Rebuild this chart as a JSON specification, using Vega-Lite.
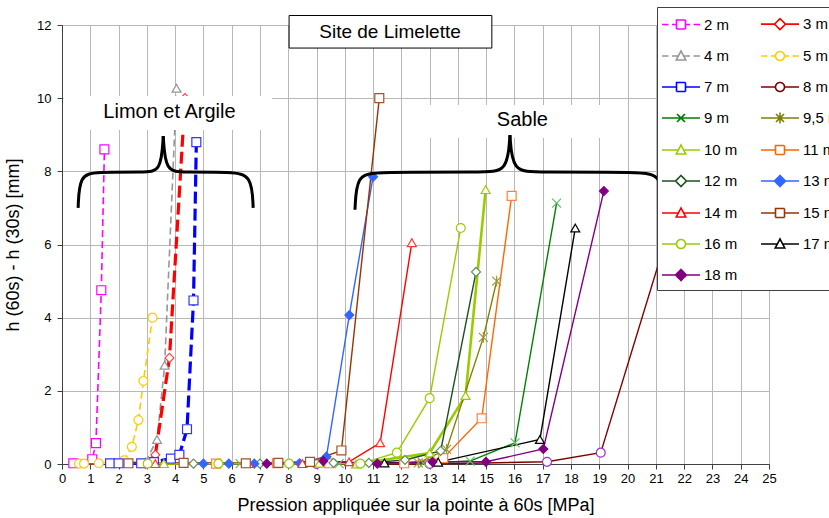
{
"$schema": "https://vega.github.io/schema/vega-lite/v6.json",
"width": 707, "height": 439,
"autosize": {"type": "none"},
"padding": {"left": 62, "top": 25, "right": 60, "bottom": 54},
"background": "white",
"config": {
 "font": "Liberation Sans",
 "view": {"stroke": "#404040", "strokeWidth": 1},
 "axis": {"domainColor": "#404040", "tickColor": "#404040", "gridColor": "#b8b8b8", "labelFont": "Liberation Sans", "titleFont": "Liberation Sans", "labelColor": "#000000", "titleColor": "#000000", "titleFontWeight": "normal", "labelFontSize": 13, "titleFontSize": 18, "tickSize": 5, "labelFlush": false, "labelOverlap": false}
},
"datasets": {
 "d": [
  {"s":"2 m","x":0.4,"y":0.02},{"s":"2 m","x":1.07,"y":0.13},{"s":"2 m","x":1.2,"y":0.57},{"s":"2 m","x":1.39,"y":4.75},{"s":"2 m","x":1.5,"y":8.6},
  {"s":"3 m","x":2.95,"y":0.0},{"s":"3 m","x":3.3,"y":0.25},{"s":"3 m","x":3.8,"y":2.9},{"s":"3 m","x":4.35,"y":10.0},
  {"s":"4 m","x":2.95,"y":0.05},{"s":"4 m","x":3.36,"y":0.67},{"s":"4 m","x":3.63,"y":2.7},{"s":"4 m","x":4.05,"y":10.27},
  {"s":"5 m","x":0.6,"y":0.01},{"s":"5 m","x":0.78,"y":0.01},{"s":"5 m","x":1.3,"y":0.02},{"s":"5 m","x":2.2,"y":0.1},{"s":"5 m","x":2.47,"y":0.47},{"s":"5 m","x":2.7,"y":1.2},{"s":"5 m","x":2.88,"y":2.27},{"s":"5 m","x":3.2,"y":4.0},
  {"s":"7 m","x":1.7,"y":0.02},{"s":"7 m","x":2.0,"y":0.02},{"s":"7 m","x":2.8,"y":0.02},{"s":"7 m","x":3.25,"y":0.05},{"s":"7 m","x":3.85,"y":0.15},{"s":"7 m","x":4.15,"y":0.25},{"s":"7 m","x":4.42,"y":0.95},{"s":"7 m","x":4.65,"y":4.47},{"s":"7 m","x":4.75,"y":8.8},
  {"s":"8 m","x":9.0,"y":0.0},{"s":"8 m","x":13.0,"y":0.0},{"s":"8 m","x":17.15,"y":0.06},{"s":"8 m","x":19.05,"y":0.31},{"s":"8 m","x":21.5,"y":6.5},
  {"s":"9 m","x":6.3,"y":0.01},{"s":"9 m","x":9.8,"y":0.01},{"s":"9 m","x":12.78,"y":0.02},{"s":"9 m","x":14.43,"y":0.08},{"s":"9 m","x":16.02,"y":0.58},{"s":"9 m","x":17.49,"y":7.13},
  {"s":"9,5 m","x":12.6,"y":0.03},{"s":"9,5 m","x":13.6,"y":0.4},{"s":"9,5 m","x":14.9,"y":3.46},{"s":"9,5 m","x":15.37,"y":5.0},
  {"s":"10 m","x":3.6,"y":0.01},{"s":"10 m","x":9.1,"y":0.02},{"s":"10 m","x":10.4,"y":0.0},{"s":"10 m","x":13.0,"y":0.3},{"s":"10 m","x":14.27,"y":1.87},{"s":"10 m","x":14.98,"y":7.5},
  {"s":"11 m","x":5.45,"y":0.01},{"s":"11 m","x":7.6,"y":0.02},{"s":"11 m","x":9.45,"y":0.02},{"s":"11 m","x":12.1,"y":0.02},{"s":"11 m","x":13.48,"y":0.16},{"s":"11 m","x":14.84,"y":1.25},{"s":"11 m","x":15.9,"y":7.33},
  {"s":"12 m","x":4.65,"y":0.01},{"s":"12 m","x":7.0,"y":0.01},{"s":"12 m","x":9.6,"y":0.03},{"s":"12 m","x":10.85,"y":0.03},{"s":"12 m","x":12.13,"y":0.11},{"s":"12 m","x":13.39,"y":0.36},{"s":"12 m","x":14.64,"y":5.25},
  {"s":"13 m","x":5.0,"y":0.01},{"s":"13 m","x":5.9,"y":0.01},{"s":"13 m","x":6.8,"y":0.01},{"s":"13 m","x":8.4,"y":0.02},{"s":"13 m","x":9.35,"y":0.2},{"s":"13 m","x":10.16,"y":4.07},{"s":"13 m","x":11.0,"y":7.85},
  {"s":"14 m","x":3.3,"y":0.01},{"s":"14 m","x":6.6,"y":0.01},{"s":"14 m","x":8.5,"y":0.01},{"s":"14 m","x":10.15,"y":0.06},{"s":"14 m","x":11.25,"y":0.58},{"s":"14 m","x":12.37,"y":6.05},
  {"s":"15 m","x":2.35,"y":0.02},{"s":"15 m","x":4.3,"y":0.03},{"s":"15 m","x":6.5,"y":0.02},{"s":"15 m","x":7.65,"y":0.03},{"s":"15 m","x":8.77,"y":0.06},{"s":"15 m","x":9.88,"y":0.37},{"s":"15 m","x":11.22,"y":10.0},
  {"s":"16 m","x":3.03,"y":0.01},{"s":"16 m","x":5.53,"y":0.01},{"s":"16 m","x":8.03,"y":0.01},{"s":"16 m","x":10.55,"y":0.01},{"s":"16 m","x":11.84,"y":0.31},{"s":"16 m","x":13.0,"y":1.8},{"s":"16 m","x":14.1,"y":6.45},
  {"s":"17 m","x":11.4,"y":0.03},{"s":"17 m","x":13.3,"y":0.05},{"s":"17 m","x":16.9,"y":0.67},{"s":"17 m","x":18.15,"y":6.45},
  {"s":"18 m","x":7.24,"y":0.01},{"s":"18 m","x":9.24,"y":0.08},{"s":"18 m","x":11.15,"y":0.01},{"s":"18 m","x":13.1,"y":0.06},{"s":"18 m","x":14.99,"y":0.06},{"s":"18 m","x":17.02,"y":0.41},{"s":"18 m","x":19.16,"y":7.46}
 ],
 "br": [
  {"p":"a","o":0,"x":0.57,"y":7.0},{"p":"a","o":1,"x":0.62,"y":7.9},{"p":"a","o":2,"x":1.2,"y":7.98},{"p":"a","o":3,"x":2.9,"y":7.98},{"p":"a","o":4,"x":3.5,"y":7.98},{"p":"a","o":5,"x":3.58,"y":8.96},
  {"p":"b","o":0,"x":3.58,"y":8.96},{"p":"b","o":1,"x":3.66,"y":7.98},{"p":"b","o":2,"x":4.3,"y":7.98},{"p":"b","o":3,"x":6.0,"y":7.98},{"p":"b","o":4,"x":6.71,"y":7.9},{"p":"b","o":5,"x":6.76,"y":7.0},
  {"p":"c","o":0,"x":10.36,"y":6.95},{"p":"c","o":1,"x":10.42,"y":7.9},{"p":"c","o":2,"x":11.1,"y":7.98},{"p":"c","o":3,"x":14.9,"y":7.98},{"p":"c","o":4,"x":15.75,"y":7.98},{"p":"c","o":5,"x":15.84,"y":8.99},
  {"p":"d","o":0,"x":15.84,"y":8.99},{"p":"d","o":1,"x":15.93,"y":7.98},{"p":"d","o":2,"x":16.8,"y":7.98},{"p":"d","o":3,"x":20.5,"y":7.98},{"p":"d","o":4,"x":21.2,"y":7.9},{"p":"d","o":5,"x":21.25,"y":6.95}
 ],
 "wb": [{"x":0.06,"x2":7.43,"y":9.13,"y2":10.06},{"x":12.06,"x2":19.97,"y":8.91,"y2":9.81}],
 "tb": [{"x":8.03,"x2":15.2,"y":11.37,"y2":12.26,"t":"Site de Limelette","xc":11.6,"yc":11.82}],
 "ann": [{"t":"Limon et Argile","x":3.8,"y":9.62},{"t":"Sable","x":16.28,"y":9.39}]
},
"encoding": {
 "x": {"field": "x", "type": "quantitative", "scale": {"domain": [0, 25], "nice": false, "zero": false},
  "axis": {"title": "Pression appliquée sur la pointe à 60s [MPa]", "values": [0,1,2,3,4,5,6,7,8,9,10,11,12,13,14,15,16,17,18,19,20,21,22,23,24,25], "labelPadding": 3, "titlePadding": 11}},
 "y": {"field": "y", "type": "quantitative", "scale": {"domain": [0, 12], "nice": false, "zero": false},
  "axis": {"title": "h (60s) - h (30s) [mm]", "values": [0,2,4,6,8,10,12], "labelPadding": 6, "titlePadding": 14}}
},
"layer": [
 {"data": {"name": "d"}, "transform": [{"filter": {"field": "s", "oneOf": ["2 m","4 m","5 m"]}}],
  "mark": {"type": "line", "strokeDash": [7, 4], "strokeWidth": 1.6},
  "encoding": {"color": {"field": "s", "type": "nominal",
   "scale": {"domain": ["2 m","4 m","7 m","9 m","10 m","12 m","14 m","16 m","18 m","3 m","5 m","8 m","9,5 m","11 m","13 m","15 m","17 m"],
    "range": ["#FF00FF","#969696","#0000FF","#008000","#99CC00","#1F4F1F","#FF0000","#99CC00","#800080","#FF0000","#FFCC00","#800000","#808000","#FF6600","#3366FF","#993300","#000000"]},
   "legend": {"title": null, "orient": "none", "legendX": 595, "legendY": -18, "columns": 2, "padding": 6,
     "fillColor": "white", "strokeColor": "#404040", "symbolDash": [1, 0],
     "labelFont": "Liberation Sans", "labelFontSize": 15, "labelColor": "#000000", "labelOffset": 19,
     "columnPadding": 19, "rowPadding": 12, "symbolSize": 400, "symbolStrokeWidth": 1.6,
     "encode": {"symbols": {"update": {
      "shape": {"signal": "['M-1.2,0H-0.55M-0.2,0H0.25M1.15,0H1.6M1.95,0H2.6M0.25,-0.45H1.15V0.45H0.25Z','M-1.2,0H0.15M1.25,0H2.6M0.7,-0.55L1.25,0L0.7,0.55L0.15,0Z','M-1.2,0H-0.55M-0.2,0H0.43M0.97,0H1.6M1.95,0H2.6M0.7,-0.5L1.18,0.4L0.22,0.4Z','M-1.2,0H-0.55M-0.2,0H0.25M1.15,0H1.6M1.95,0H2.6M1.15,0A0.45,0.45,0,1,1,0.25,0A0.45,0.45,0,1,1,1.15,0Z','M-1.2,0H0.25M1.15,0H2.6M0.25,-0.45H1.15V0.45H0.25Z','M-1.2,0H0.25M1.15,0H2.6M1.15,0A0.45,0.45,0,1,1,0.25,0A0.45,0.45,0,1,1,1.15,0Z','M-1.2,0H2.6M0.3,-0.4L1.1,0.4M0.3,0.4L1.1,-0.4','M-1.2,0H2.6M0.3,-0.4L1.1,0.4M0.3,0.4L1.1,-0.4M0.7,-0.55V0.55','M-1.2,0H0.43M0.97,0H2.6M0.7,-0.5L1.18,0.4L0.22,0.4Z','M-1.2,0H0.25M1.15,0H2.6M0.25,-0.45H1.15V0.45H0.25Z','M-1.2,0H0.15M1.25,0H2.6M0.7,-0.55L1.25,0L0.7,0.55L0.15,0Z','M-1.2,0H0.15M1.25,0H2.6M0.7,-0.55L1.25,0L0.7,0.55L0.15,0Z','M-1.2,0H0.43M0.97,0H2.6M0.7,-0.5L1.18,0.4L0.22,0.4Z','M-1.2,0H0.25M1.15,0H2.6M0.25,-0.45H1.15V0.45H0.25Z','M-1.2,0H0.25M1.15,0H2.6M1.15,0A0.45,0.45,0,1,1,0.25,0A0.45,0.45,0,1,1,1.15,0Z','M-1.2,0H0.43M0.97,0H2.6M0.7,-0.5L1.18,0.4L0.22,0.4Z','M-1.2,0H0.15M1.25,0H2.6M0.7,-0.55L1.25,0L0.7,0.55L0.15,0Z'][indexof(['2 m','3 m','4 m','5 m','7 m','8 m','9 m','9,5 m','10 m','11 m','12 m','13 m','14 m','15 m','16 m','17 m','18 m'], datum.value)]"},
      "fill": {"signal": "datum.value == '13 m' ? '#3366FF' : (datum.value == '18 m' ? '#800080' : '#ffffff')"},
      "stroke": {"signal": "['#FF00FF','#FF0000','#969696','#FFCC00','#0000FF','#800000','#008000','#808000','#99CC00','#FF6600','#1F4F1F','#3366FF','#FF3333','#A0522D','#99CC00','#000000','#800080'][indexof(['2 m','3 m','4 m','5 m','7 m','8 m','9 m','9,5 m','10 m','11 m','12 m','13 m','14 m','15 m','16 m','17 m','18 m'], datum.value)]"},
      "strokeWidth": {"value": 1.6},
      "size": {"value": 400},
      "opacity": {"value": 1}
     }}}}}}},
 {"data": {"name": "d"}, "transform": [{"filter": {"field": "s", "oneOf": ["3 m","7 m"]}}],
  "mark": {"type": "line", "strokeDash": [12, 5], "strokeWidth": 3.2},
  "encoding": {"color": {"field": "s", "type": "nominal"}}},
 {"data": {"name": "d"}, "transform": [{"filter": {"field": "s", "oneOf": ["10 m"]}}],
  "mark": {"type": "line", "strokeWidth": 2.6},
  "encoding": {"color": {"field": "s", "type": "nominal"}}},
 {"data": {"name": "d"}, "transform": [{"filter": {"field": "s", "oneOf": ["8 m","9 m","9,5 m","11 m","12 m","13 m","14 m","15 m","16 m","17 m","18 m"]}}],
  "mark": {"type": "line", "strokeWidth": 1.4},
  "encoding": {"color": {"field": "s", "type": "nominal"}}},
 {"data": {"name": "d"},
  "mark": {"type": "point", "size": 80, "strokeWidth": 1.2, "opacity": 1},
  "encoding": {
   "shape": {"field": "s", "type": "nominal", "legend": null,
    "scale": {"domain": ["2 m","3 m","4 m","5 m","7 m","8 m","9 m","9,5 m","10 m","11 m","12 m","13 m","14 m","15 m","16 m","17 m","18 m","-"],
     "range": ["square","diamond","triangle-up","circle","square","circle","M-1,-1L1,1M-1,1L1,-1","M-1,-1L1,1M-1,1L1,-1M0,-1.2V1.2","triangle-up","square","diamond","diamond","triangle-up","square","circle","triangle-up","diamond","circle"]}},
   "fill": {"field": "s", "type": "nominal", "legend": null,
    "scale": {"domain": ["2 m","3 m","4 m","5 m","7 m","8 m","9 m","9,5 m","10 m","11 m","12 m","13 m","14 m","15 m","16 m","17 m","18 m","-"],
     "range": ["#ffffff","#ffffff","#ffffff","#ffffff","#ffffff","#ffffff","#ffffff","#ffffff","#ffffff","#ffffff","#ffffff","#3366FF","#ffffff","#ffffff","#ffffff","#ffffff","#800080","#ffffff"]}},
   "stroke": {"field": "s", "type": "nominal", "legend": null,
    "scale": {"domain": ["2 m","3 m","4 m","5 m","7 m","8 m","9 m","9,5 m","10 m","11 m","12 m","13 m","14 m","15 m","16 m","17 m","18 m","-"],
     "range": ["#FF00FF","#FF4040","#969696","#FFCC00","#3333FF","#9933CC","#66BB66","#999933","#99CC00","#FF8040","#5F8F5F","#3366FF","#FF3333","#A0522D","#99CC00","#000000","#800080","#000000"]}}
  }},
 {"data": {"name": "wb"}, "mark": {"type": "rect", "fill": "white", "stroke": null},
  "encoding": {"x": {"field": "x", "type": "quantitative"}, "x2": {"field": "x2"}, "y": {"field": "y", "type": "quantitative"}, "y2": {"field": "y2"}}},
 {"data": {"name": "tb"}, "mark": {"type": "rect", "fill": "white", "stroke": "#000000", "strokeWidth": 1},
  "encoding": {"x": {"field": "x", "type": "quantitative"}, "x2": {"field": "x2"}, "y": {"field": "y", "type": "quantitative"}, "y2": {"field": "y2"}}},
 {"data": {"name": "tb"}, "mark": {"type": "text", "font": "Liberation Sans", "fontSize": 19, "color": "#000000", "align": "center", "baseline": "middle"},
  "encoding": {"x": {"field": "xc", "type": "quantitative"}, "y": {"field": "yc", "type": "quantitative"}, "text": {"field": "t"}}},
 {"data": {"name": "br"}, "mark": {"type": "line", "interpolate": "basis", "color": "#000000", "strokeWidth": 3},
  "encoding": {"detail": {"field": "p"}, "order": {"field": "o", "type": "quantitative"}}},
 {"data": {"name": "ann"}, "mark": {"type": "text", "font": "Liberation Sans", "fontSize": 20, "color": "#000000", "align": "center", "baseline": "middle"},
  "encoding": {"text": {"field": "t"}}}
]
}
